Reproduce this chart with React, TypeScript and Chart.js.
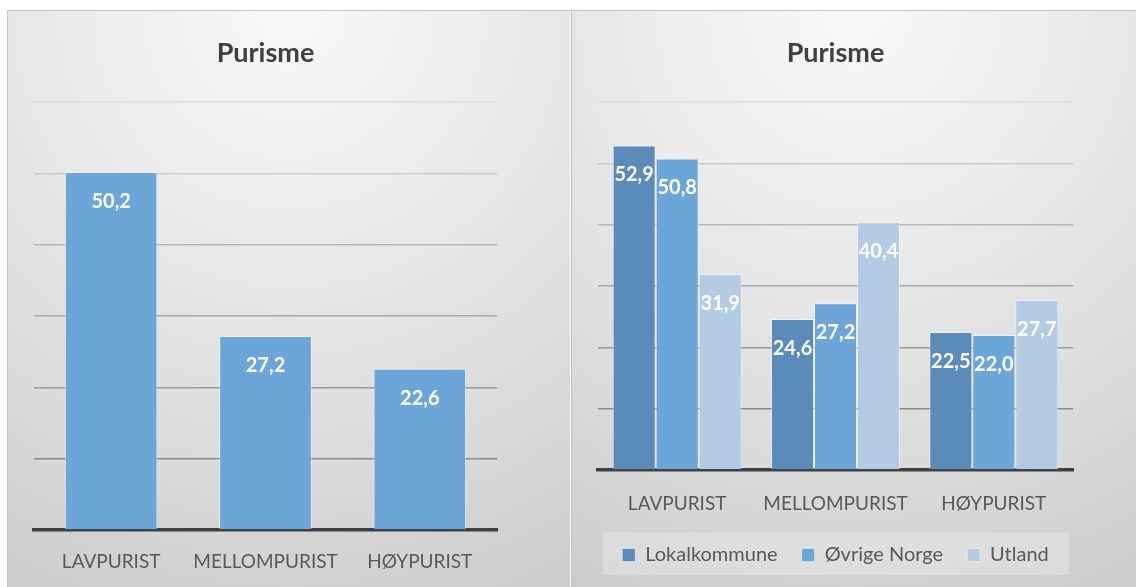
import React, { useEffect, useRef } from 'react';
import { Chart, registerables } from 'chart.js';

Chart.register(...registerables);

// ---------- data ----------
const titleText = 'Purisme';
const categories = ['LAVPURIST', 'MELLOMPURIST', 'HØYPURIST'];
const totalValues = [50.2, 27.2, 22.6];
const seriesNames = ['Lokalkommune', 'Øvrige Norge', 'Utland'];
const lokalValues = [52.9, 24.6, 22.5];
const ovrigeValues = [50.8, 27.2, 22.0];
const utlandValues = [31.9, 40.4, 27.7];
const yMin = 0;
const yMax = 60;
const yStep = 10;

// ---------- styles ----------
const FONT = 'Lato';
const colLokal = '#5b8bb8';
const colOvrige = '#6ca5d8';
const colUtland = '#b4cbe6';
const barBorder = 'rgba(255,255,255,0.45)';
const gridColors = ['#8a8a8a', '#8c8c8c', '#9a9a9a', '#a8a8a8', '#b8b8b8', '#cbcbcb', '#dddddd'];
const LEGEND_PAD = 24;
const LEGEND_FONT = 20;

const fmt = (v: number) => v.toFixed(1).replace('.', ',');

const valueLabelPlugin = {
  id: 'valueLabels',
  afterDatasetsDraw(chart: any) {
    const ctx = chart.ctx;
    ctx.save();
    ctx.font = `bold 20px ${FONT}`;
    ctx.fillStyle = '#ffffff';
    ctx.textAlign = 'center';
    ctx.textBaseline = 'middle';
    chart.data.datasets.forEach((ds: any, i: number) => {
      const meta = chart.getDatasetMeta(i);
      meta.data.forEach((el: any, j: number) => {
        ctx.fillText(fmt(ds.data[j]), el.x, el.y + 29.5);
      });
    });
    ctx.restore();
  },
};

const legendBgPlugin = {
  id: 'legendBg',
  beforeDraw(chart: any) {
    const lg = chart.legend;
    if (!lg || !lg.options.display) return;
    const ctx = chart.ctx;
    ctx.save();
    ctx.fillStyle = 'rgba(255,255,255,0.25)';
    const cy = lg.top + LEGEND_PAD + LEGEND_FONT / 2;
    ctx.fillRect(lg.left + 5, cy - 22.5, lg.width - 9, 45);
    ctx.restore();
  },
};

function baseOptions(padLeft: number, padRight: number, tickPad: number, afterFit?: (s: any) => void) {
  return {
    responsive: false,
    animation: false as const,
    devicePixelRatio: 1,
    layout: { padding: { left: padLeft, right: padRight, top: 0, bottom: 0 } },
    plugins: {
      title: {
        display: true,
        text: titleText,
        color: '#404040',
        font: { family: FONT, size: 27, weight: 'bold' as const, lineHeight: 1.2 },
        padding: { top: 27.3, bottom: 32.3 },
      },
      tooltip: { enabled: false },
      legend: { display: false },
    },
    scales: {
      x: {
        grid: { display: false, drawTicks: false },
        border: { display: true, color: '#404040', width: 3.5 },
        ticks: {
          color: '#595959',
          padding: tickPad,
          font: { family: FONT, size: 19, lineHeight: 1.2 },
        },
        afterFit,
      },
      y: {
        min: yMin,
        max: yMax,
        ticks: { display: false, stepSize: yStep },
        border: { display: false },
        grid: {
          drawTicks: false,
          lineWidth: 1.5,
          color: (c: any) => gridColors[c.index] || '#cccccc',
        },
      },
    },
  };
}

function makeLeftConfig(): any {
  return {
    type: 'bar',
    data: {
      labels: categories,
      datasets: [
        {
          label: 'Purisme',
          data: totalValues,
          backgroundColor: colOvrige,
          borderColor: barBorder,
          borderWidth: 1,
          categoryPercentage: 0.6,
          barPercentage: 1,
        },
      ],
    },
    options: baseOptions(27, 74, 20.6),
    plugins: [valueLabelPlugin],
  };
}

function makeRightConfig(): any {
  const opts: any = baseOptions(27, 63, 22.1, (s: any) => {
    s.height = 51;
  });
  opts.plugins.legend = {
    display: true,
    position: 'bottom',
    labels: {
      boxWidth: 13,
      boxHeight: 13,
      padding: LEGEND_PAD,
      color: '#595959',
      font: { family: FONT, size: LEGEND_FONT },
    },
  };
  const mk = (label: string, data: number[], color: string) => ({
    label,
    data,
    backgroundColor: color,
    borderColor: barBorder,
    borderWidth: 1,
    categoryPercentage: 0.815,
    barPercentage: 1,
  });
  return {
    type: 'bar',
    data: {
      labels: categories,
      datasets: [
        mk(seriesNames[0], lokalValues, colLokal),
        mk(seriesNames[1], ovrigeValues, colOvrige),
        mk(seriesNames[2], utlandValues, colUtland),
      ],
    },
    options: opts,
    plugins: [valueLabelPlugin, legendBgPlugin],
  };
}

function ChartCanvas(props: { make: () => any; left: number; top: number; width: number; height: number }) {
  const ref = useRef<HTMLCanvasElement | null>(null);
  useEffect(() => {
    if (!ref.current) return;
    const chart = new Chart(ref.current, props.make());
    return () => chart.destroy();
  }, []);
  return (
    <canvas
      ref={ref}
      width={props.width}
      height={props.height}
      style={{ position: 'absolute', left: props.left, top: props.top, width: props.width, height: props.height }}
    />
  );
}

const panelBg =
  'radial-gradient(ellipse 120% 115% at 50% 0%, #f8f8f8 0%, #ececec 30%, #dcdcdc 65%, #c9c9c9 100%)';

export default function App() {
  return (
    <div
      style={{
        position: 'fixed',
        left: 0,
        top: 0,
        width: 1136,
        height: 587,
        overflow: 'hidden',
        background: '#ffffff',
      }}
    >
      <div
        style={{
          position: 'absolute',
          left: 7,
          top: 10,
          width: 563,
          height: 590,
          background: panelBg,
          borderTop: '1px solid #c6c6c6',
          borderLeft: '1px solid #c6c6c6',
          boxSizing: 'border-box',
        }}
      />
      <div
        style={{
          position: 'absolute',
          left: 571,
          top: 10,
          width: 565,
          height: 590,
          background: panelBg,
          borderTop: '1px solid #c6c6c6',
          borderLeft: '1px solid #c0c0c0',
          boxSizing: 'border-box',
        }}
      />
      <ChartCanvas make={makeLeftConfig} left={7} top={10} width={564} height={584} />
      <ChartCanvas make={makeRightConfig} left={571} top={10} width={565} height={565} />
    </div>
  );
}
